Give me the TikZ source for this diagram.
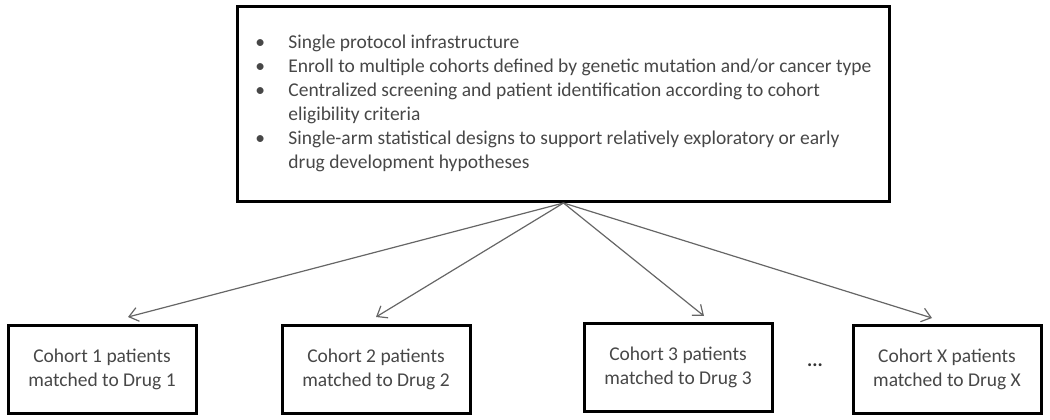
\documentclass[tikz,border=0pt]{standalone}
\usepackage{fontspec}
\setmainfont{Carlito}
\usetikzlibrary{arrows.meta}
\begin{document}
\begin{tikzpicture}[x=1pt, y=-1pt,
	box/.style={draw=black, line width=3pt, minimum width=188pt, minimum height=88pt, align=center, text=black!72, font=\fontsize{19.5}{24}\selectfont},
	link/.style={draw=black!60, line width=1.2pt, -{Straight Barb[length=9pt, width=14pt]}}]
	\useasboundingbox (0,0) rectangle (1050,420);
	
	\node [box, minimum width=652pt, minimum height=195pt, align=left] (top) at (563.5,104) {%
		\begin{tabular}{@{}l@{}l@{}}
			\makebox[33pt][l]{\textbullet} & Single protocol infrastructure \\
			\makebox[33pt][l]{\textbullet} & Enroll to multiple cohorts defined by genetic mutation and/or cancer type \\
			\makebox[33pt][l]{\textbullet} & Centralized screening and patient identification according to cohort \\
			 & eligibility criteria \\
			\makebox[33pt][l]{\textbullet} & Single-arm statistical designs to support relatively exploratory or early \\
			 & drug development hypotheses
		\end{tabular}};
	
	\node [box] (c1) at (102,369.5) {Cohort 1 patients\\matched to Drug 1};
	\node [box] (c2) at (376,369.5) {Cohort 2 patients\\matched to Drug 2};
	\node [box] (c3) at (678,367) {Cohort 3 patients\\matched to Drug 3};
	\node [box] (cx) at (947,369.5) {Cohort X patients\\matched to Drug X};
	\node [font=\fontsize{19.5}{24}\selectfont\bfseries, text=black!80] (dots) at (815,365) {...};
	
	\coordinate (e1) at (128,317);
	\coordinate (e2) at (376,317);
	\coordinate (e3) at (704,316);
	\coordinate (ex) at (932,318);
	\draw [link] (top.south) -- (e1);
	\draw [link] (top.south) -- (e2);
	\draw [link] (top.south) -- (e3);
	\draw [link] (top.south) -- (ex);
\end{tikzpicture}
\end{document}
